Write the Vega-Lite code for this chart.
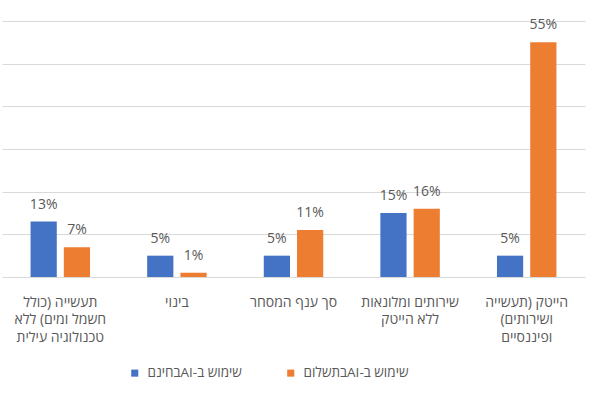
{
  "$schema": "https://vega.github.io/schema/vega-lite/v6.json",
  "width": 583,
  "height": 256,
  "autosize": {"type": "none"},
  "padding": {"left": 2, "top": 21, "right": 15, "bottom": 123},
  "config": {
    "view": {"stroke": null},
    "font": "Open Sans, Liberation Sans, DejaVu Sans, sans-serif"
  },
  "data": {
    "values": [
      {"sector": "תעשייה (כולל|חשמל ומים) ללא|טכנולוגיה עילית", "series": "שימוש ב-AIבחינם", "share": 0.13},
      {"sector": "תעשייה (כולל|חשמל ומים) ללא|טכנולוגיה עילית", "series": "שימוש ב-AIבתשלום", "share": 0.07},
      {"sector": "בינוי", "series": "שימוש ב-AIבחינם", "share": 0.05},
      {"sector": "בינוי", "series": "שימוש ב-AIבתשלום", "share": 0.01},
      {"sector": "סך ענף המסחר", "series": "שימוש ב-AIבחינם", "share": 0.05},
      {"sector": "סך ענף המסחר", "series": "שימוש ב-AIבתשלום", "share": 0.11},
      {"sector": "שירותים ומלונאות|ללא הייטק", "series": "שימוש ב-AIבחינם", "share": 0.15},
      {"sector": "שירותים ומלונאות|ללא הייטק", "series": "שימוש ב-AIבתשלום", "share": 0.16},
      {"sector": "הייטק (תעשייה|ושירותים)|ופיננסיים", "series": "שימוש ב-AIבחינם", "share": 0.05},
      {"sector": "הייטק (תעשייה|ושירותים)|ופיננסיים", "series": "שימוש ב-AIבתשלום", "share": 0.55}
    ]
  },
  "encoding": {
    "x": {
      "field": "sector",
      "type": "nominal",
      "sort": null,
      "scale": {"paddingInner": 0.49, "paddingOuter": 0.245},
      "axis": {
        "title": null,
        "labelAngle": 0,
        "ticks": false,
        "domainColor": "#d9d9d9",
        "domainWidth": 1.2,
        "labelExpr": "split('\u202b' + replace(datum.label, regexp('[|]', 'g'), '\u202c|\u202b') + '\u202c', '|')",
        "labelFontSize": 14,
        "labelColor": "#595959",
        "labelPadding": 18,
        "labelBaseline": "top",
        "labelLineHeight": 17.5,
        "labelOverlap": false,
        "labelLimit": 0
      }
    },
    "xOffset": {
      "field": "series",
      "type": "nominal",
      "sort": ["שימוש ב-AIבחינם", "שימוש ב-AIבתשלום"],
      "scale": {"paddingInner": 0.212, "paddingOuter": 0}
    },
    "y": {
      "field": "share",
      "type": "quantitative",
      "scale": {"domain": [0, 0.6]},
      "axis": {
        "title": null,
        "labels": false,
        "ticks": false,
        "domain": false,
        "values": [0.1, 0.2, 0.3, 0.4, 0.5, 0.6],
        "gridColor": "#d9d9d9",
        "gridWidth": 1.2
      }
    }
  },
  "layer": [
    {
      "mark": {"type": "bar"},
      "encoding": {
        "color": {
          "field": "series",
          "type": "nominal",
          "scale": {
            "domain": ["שימוש ב-AIבחינם", "שימוש ב-AIבתשלום"],
            "range": ["#4472C4", "#ED7D31"]
          },
          "legend": {
            "title": null,
            "orient": "none",
            "direction": "horizontal",
            "legendX": 126,
            "legendY": 345,
            "symbolType": "square",
            "symbolSize": 50,
            "symbolStrokeWidth": 0,
            "labelFontSize": 13.5,
            "labelColor": "#595959",
            "labelOffset": 6,
            "columnPadding": 42,
            "labelExpr": "'\u202b' + datum.label + '\u202c'"
          }
        }
      }
    },
    {
      "mark": {
        "type": "text",
        "baseline": "alphabetic",
        "dy": -13,
        "fontSize": 14,
        "color": "#595959"
      },
      "encoding": {
        "text": {"field": "share", "type": "quantitative", "format": ".0%"}
      }
    }
  ]
}
